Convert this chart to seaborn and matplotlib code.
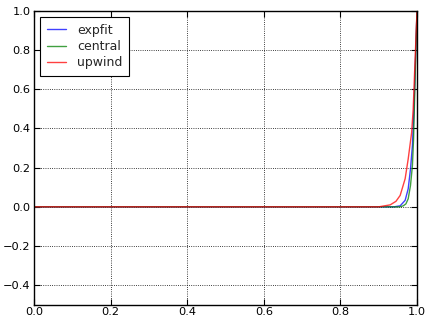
import numpy as np
import pandas as pd
import matplotlib
matplotlib.use("Agg")
import matplotlib.pyplot as plt
import seaborn as sns

# values (boundary layer near x = 1)
x_expfit = [0.0, 0.90, 0.94, 0.956, 0.969, 0.977, 0.983, 0.988, 0.992, 0.996, 1.0]
y_expfit = [0.0, 0.0, 0.0, 0.005, 0.033, 0.092, 0.193, 0.311, 0.497, 0.75, 1.0]

x_central = [0.0, 0.92, 0.955, 0.964, 0.971, 0.977, 0.983, 0.988, 0.991, 0.993, 0.997, 1.0]
y_central = [0.0, 0.0, 0.0, 0.005, 0.015, 0.041, 0.109, 0.21, 0.345, 0.497, 0.8, 1.0]

x_upwind = [0.0, 0.90, 0.93, 0.945, 0.956, 0.969, 0.977, 0.986, 0.990, 0.995, 1.0]
y_upwind = [0.0, 0.0, 0.01, 0.028, 0.058, 0.143, 0.244, 0.379, 0.497, 0.75, 1.0]

labels = ["expfit", "central", "upwind"]
colors = ["#0000ff", "#008000", "#ff0000"]

df = pd.concat([
    pd.DataFrame({"x": x_expfit, "u": y_expfit, "method": "expfit"}),
    pd.DataFrame({"x": x_central, "u": y_central, "method": "central"}),
    pd.DataFrame({"x": x_upwind, "u": y_upwind, "method": "upwind"}),
])

sns.set_style("ticks")
plt.rcParams["font.family"] = ["DejaVu Sans"]
plt.rcParams["font.size"] = 8.2

fig = plt.figure(figsize=(4.27, 3.2), dpi=100)
ax = fig.add_axes([0.0796, 0.047, 0.897, 0.92])

sns.lineplot(data=df, x="x", y="u", hue="method", hue_order=labels,
             palette=dict(zip(labels, colors)), ax=ax, linewidth=1.0,
             alpha=0.75, sort=False, estimator=None)

ticks_x = np.arange(0, 1.01, 0.2)
ticks_y = np.arange(-0.4, 1.01, 0.2)
ax.set_xlim(0, 1)
ax.set_ylim(-0.5, 1.0)
ax.set_xticks(ticks_x)
ax.set_yticks(ticks_y)
ax.set_xticklabels([f"{v:.1f}" for v in ticks_x])
ax.set_yticklabels([f"{v:.1f}".replace("-", "\u2212") for v in ticks_y])
ax.set_xlabel("")
ax.set_ylabel("")
ax.grid(True, linestyle=":", color="black", linewidth=0.6)
ax.tick_params(direction="in", top=True, right=True, length=4, width=0.8,
               labelsize=8.2, colors="black", pad=2.5)
ax.tick_params(axis="x", pad=1.5)
for s in ax.spines.values():
    s.set_visible(True)
    s.set_color("black")
    s.set_linewidth(1.0)

leg = ax.legend(loc="upper left", frameon=True, fancybox=False,
                fontsize=9.0, borderpad=0.55, labelspacing=0.27,
                handlelength=1.5, handletextpad=0.9)
leg.get_frame().set_edgecolor("black")
leg.get_frame().set_linewidth(0.8)
leg.get_frame().set_alpha(1.0)

fig.savefig("out.png", dpi=100)
